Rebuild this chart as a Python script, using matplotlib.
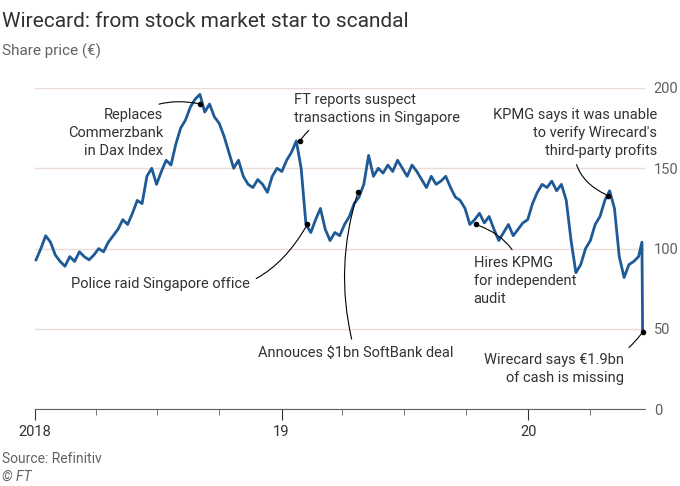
import pandas as pd
import matplotlib.pyplot as plt
import matplotlib.dates as mdates

plt.rcParams["font.family"] = "Roboto"

# weekly share price readings, Jan 2018 - Jun 2020
prices = [93, 100, 108, 104, 96, 92, 89, 95, 92, 98, 95, 93, 96, 100, 98, 104,
          108, 112, 118, 115, 122, 130, 128, 145, 150, 140, 148, 155, 152,
          165, 175, 180, 188, 193, 196, 185, 190, 182, 178, 170, 160, 150,
          155, 145, 140, 138, 143, 140, 135, 145, 150,
          148, 155, 160, 167, 150, 115, 110, 118, 125, 112, 105, 110,
          108, 115, 120, 128, 132, 140, 158, 145, 150, 147, 152, 148, 155,
          150, 145, 152, 148, 143, 138, 145, 140, 142, 145, 138, 132, 130,
          125, 115, 118, 122, 116, 120, 112, 105, 110, 115, 108, 112, 116,
          118, 128, 135, 140, 138, 142, 136, 140, 130, 105, 85, 90, 100,
          105, 115, 120, 130, 136, 125, 95, 82, 90, 92, 95]
dates = list(pd.date_range("2018-01-03", "2020-06-12", periods=len(prices)))
dates += [pd.Timestamp("2020-06-17"), pd.Timestamp("2020-06-18")]
prices += [104, 48]

events = [
    ("Replaces\nCommerzbank\nin Dax Index", "2018-09-03", 190, "2018-07-10", 172, "right", -0.3),
    ("FT reports suspect\ntransactions in Singapore", "2019-01-28", 167, "2019-01-20", 187, "left", 0.3),
    ("Police raid Singapore office", "2019-02-08", 115, "2018-11-15", 78, "right", 0.4),
    ("Annouces $1bn SoftBank deal", "2019-04-24", 135, "2019-04-20", 35, "center", -0.15),
    ("Hires KPMG\nfor independent\naudit", "2019-10-15", 115, "2019-10-12", 80, "left", 0.3),
    ("KPMG says it was unable\nto verify Wirecard's\nthird-party profits", "2020-04-28", 133, "2020-07-10", 172, "right", 0.4),
    ("Wirecard says €1.9bn\nof cash is missing", "2020-06-18", 48, "2020-05-22", 25, "right", 0.3),
]

fig = plt.figure(figsize=(6.8, 4.86), dpi=100)
ax = fig.add_axes([0.051, 0.158, 0.898, 0.661])
ax.plot(dates, prices, color="#1d5a96", lw=2, clip_on=False, zorder=3)
ax.set_ylim(0, 200)
ax.set_xlim(pd.Timestamp("2018-01-01"), pd.Timestamp("2020-06-22"))
ax.yaxis.tick_right()
ax.set_yticks([0, 50, 100, 150, 200])
ax.tick_params(axis="y", length=0, labelsize=10.5, colors="#66605c", pad=6)
ax.grid(axis="y", color="#eadcd4", lw=1)
for s in ["top", "right", "left"]:
    ax.spines[s].set_visible(False)
ax.spines["bottom"].set_color("#66605c")
ax.xaxis.set_minor_locator(mdates.MonthLocator(bymonth=[4, 7, 10]))
ax.set_xticks([pd.Timestamp(d) for d in ["2018-01-01", "2019-01-01", "2020-01-01"]])
ax.set_xticklabels(["2018", "19", "20"])
ax.tick_params(axis="x", which="major", length=8, labelsize=10.5, colors="#33302e")
ax.tick_params(axis="x", which="minor", length=4, color="#66605c")

for text, px, py, tx, ty, ha, rad in events:
    ax.plot(pd.Timestamp(px), py, "o", color="black", ms=3, zorder=4, clip_on=False)
    ax.annotate(text, xy=(pd.Timestamp(px), py), xytext=(pd.Timestamp(tx), ty),
                ha=ha, va="center", fontsize=10.5, color="#33302e", linespacing=1.35,
                annotation_clip=False,
                arrowprops=dict(arrowstyle="-", color="black", lw=0.8,
                                connectionstyle=f"arc3,rad={rad}", shrinkA=3, shrinkB=2))

fig.text(0.003, 0.955, "Wirecard: from stock market star to scandal", fontsize=15, color="#33302e", va="center")
fig.text(0.003, 0.895, "Share price (€)", fontsize=11, color="#66605c", va="center")
fig.text(0.003, 0.055, "Source: Refinitiv", fontsize=10, color="#66605c", va="center")
fig.text(0.003, 0.018, "© FT", fontsize=10, color="#66605c", va="center", style="italic")
fig.savefig("out.png", dpi=100, facecolor="white")
